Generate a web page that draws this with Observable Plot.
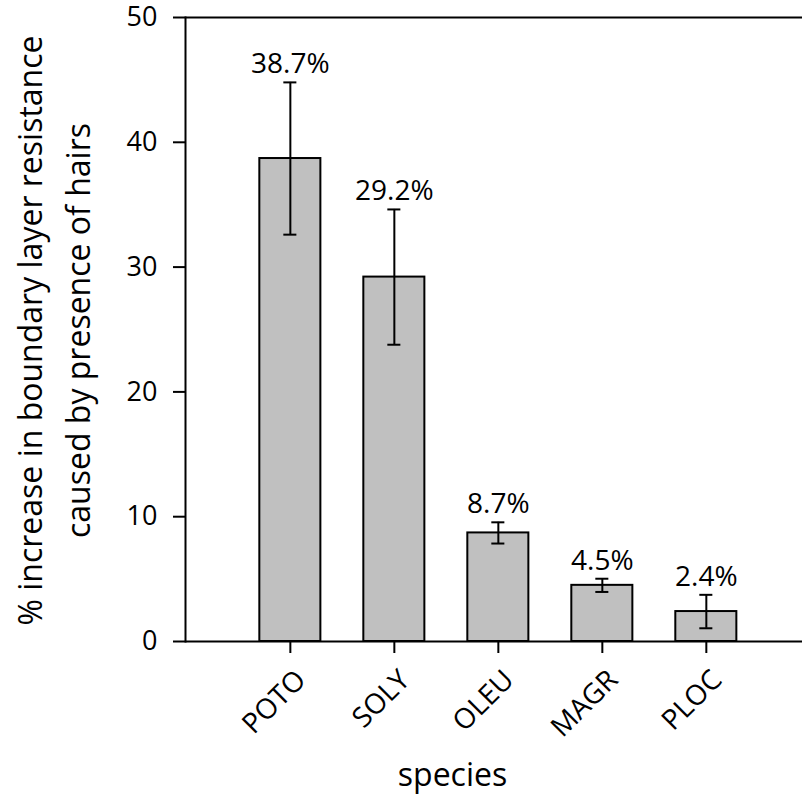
<!DOCTYPE html>
<html>
<head>
<meta charset="utf-8">
<script src="https://cdn.jsdelivr.net/npm/d3@7"></script>
<script src="https://cdn.jsdelivr.net/npm/@observablehq/plot@0.6"></script>
<style>
  html, body { margin: 0; padding: 0; background: #fff; }
</style>
</head>
<body>
<div id="chart"></div>
<script>
const species = ["POTO", "SOLY", "OLEU", "MAGR", "PLOC"];
const values = [38.7, 29.2, 8.7, 4.5, 2.4];
const errors = [6.1, 5.42, 0.85, 0.53, 1.34];
const yTicks = [0, 10, 20, 30, 40, 50];
const yLabel = "% increase in boundary layer resistance\ncaused by presence of hairs";
const xLabel = "species";

const data = species.map((s, i) => ({
  species: s,
  value: values[i],
  lo: values[i] - errors[i],
  hi: values[i] + errors[i],
  label: values[i].toFixed(1) + "%"
}));

const font = "'Open Sans', sans-serif";

const chart = Plot.plot({
  width: 802,
  height: 798,
  marginLeft: 185,
  marginRight: 0,
  marginTop: 17,
  marginBottom: 157,
  style: { fontFamily: font, background: "#fff", color: "#000", overflow: "visible" },
  x: { domain: species, paddingInner: 0.413, paddingOuter: 0.673, align: 0.531, round: false, axis: null },
  y: { domain: [0, 50], axis: null },
  marks: [
    Plot.barY(data, { x: "species", y: "value", fill: "#c0c0c0", stroke: "#000", strokeWidth: 2 }),
    Plot.ruleX(data, { x: "species", y1: "lo", y2: "hi", stroke: "#000", strokeWidth: 2 }),
    Plot.tickY(data, { x: "species", y: "lo", stroke: "#000", strokeWidth: 2, insetLeft: 24, insetRight: 24 }),
    Plot.tickY(data, { x: "species", y: "hi", stroke: "#000", strokeWidth: 2, insetLeft: 24, insetRight: 24 }),
    Plot.text(data, { x: "species", y: "hi", text: "label", dy: -9, lineAnchor: "bottom", fontSize: 28, fill: "#000" }),
    Plot.ruleY([0, 50], { stroke: "#000", strokeWidth: 2 }),
    Plot.frame({ anchor: "left", stroke: "#000", strokeWidth: 2 }),
    Plot.axisY({ ticks: yTicks, tickSize: 12, tickPadding: 16, fontSize: 27, label: null, strokeWidth: 2 }),
    Plot.axisX({ tickSize: 12, tickFormat: () => "", label: null, strokeWidth: 2 }),
    Plot.text(species, { x: d => d, frameAnchor: "bottom", rotate: -45, textAnchor: "end", lineAnchor: "top", dx: 3, dy: 26, fontSize: 28, fill: "#000" }),
    Plot.text([xLabel], { frameAnchor: "bottom", text: d => d, textAnchor: "middle", dx: -41.5, dy: 144, lineAnchor: "bottom", fontSize: 32, fill: "#000" }),
    Plot.text([yLabel], { frameAnchor: "left", text: d => d, textAnchor: "middle", rotate: -90, dx: -96, dy: 1, lineAnchor: "bottom", lineHeight: 1.48, fontSize: 32, fill: "#000" })
  ]
});

document.getElementById("chart").appendChild(chart);
</script>
</body>
</html>
